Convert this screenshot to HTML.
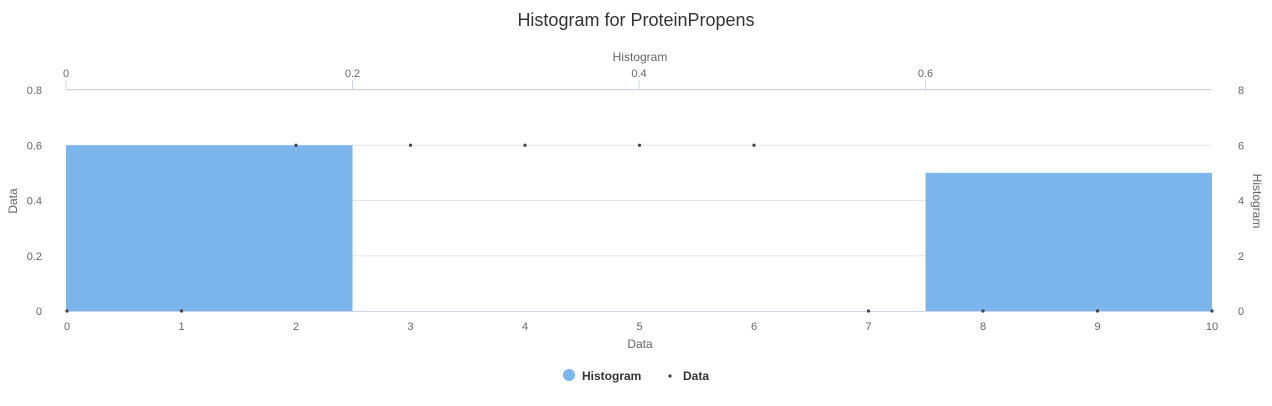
<!DOCTYPE html>
<html><head><meta charset="utf-8"><style>
body{margin:0;background:#fff;font-family:"Liberation Sans",sans-serif}
svg text{font-family:"Liberation Sans",sans-serif}
</style></head><body>
<svg id="c" width="1272" height="401">
<text x="636" y="26" text-anchor="middle" font-size="18" fill="#333">Histogram for ProteinPropens</text>
<g id="g"></g>
</svg>
<script>
const dataX=[0,1,2,3,4,5,6,7,8,9,10];
const dataY=[0,0,0.6,0.6,0.6,0.6,0.6,0,0,0,0];
const binStart=[0,0.2,0.4,0.6];
const binEnd=[0.2,0.4,0.6,0.8];
const binCount=[6,0,0,5];
const leftTicks=[0,0.2,0.4,0.6,0.8];
const rightTicks=[0,2,4,6,8];
const bottomTicks=[0,1,2,3,4,5,6,7,8,9,10];
const topTicks=[0,0.2,0.4,0.6];
const L=67,R=1212,T=90,B=311;
const xB=v=>L+(v/10)*(R-L);
const xT=v=>66+(v/0.8)*(R-66);
const yL=v=>B-(v/0.8)*(B-T);
const yR=v=>B-(v/8)*(B-T);
const g=document.getElementById('g');
const NS='http://www.w3.org/2000/svg';
function mk(t,a,txt){const e=document.createElementNS(NS,t);for(const k in a)e.setAttribute(k,a[k]);if(txt!==undefined)e.textContent=txt;g.appendChild(e);return e;}
leftTicks.forEach(v=>{
 if(v>0){const l=mk('line',{x1:L,x2:R,y1:yL(v),y2:yL(v),stroke:'#e6e6e6'});
 
 }
 const t=mk('text',{x:42,y:yL(v)+4,'text-anchor':'end','font-size':11,fill:'#666'},String(v));
 
 
});
rightTicks.forEach(v=>{
 const t=mk('text',{x:1238,y:yR(v)+4,'text-anchor':'start','font-size':11,fill:'#666'},String(v));
 
 
});
bottomTicks.forEach(v=>{
 const t=mk('text',{x:xB(v),y:330,'text-anchor':'middle','font-size':11,fill:'#666'},String(v));
 
 
});
topTicks.forEach(v=>{
 const t=mk('text',{x:xT(v),y:77,'text-anchor':'middle','font-size':11,fill:'#666'},String(v));
 
 
 const k=mk('line',{x1:xT(v),x2:xT(v),y1:80,y2:90,stroke:'#ccd6eb'});
 
 
});
let ax=mk('line',{x1:66,x2:R,y1:89.5,y2:89.5,stroke:'#ccd6eb'});


ax=mk('line',{x1:L,x2:R,y1:311.5,y2:311.5,stroke:'#ccd6eb'});


binCount.forEach((c,i)=>{
 if(c<=0)return;
 const x1=xT(binStart[i]),x2=xT(binEnd[i]);
 const r=mk('rect',{x:x1,y:yR(c),width:x2-x1,height:B-yR(c),fill:'#7cb5ec'});
 
 
});
dataX.forEach((x,i)=>{
 const p=mk('circle',{cx:xB(x),cy:yL(dataY[i]),r:1.6,fill:'#434348'});
 
 
});
let t=mk('text',{x:640,y:61,'text-anchor':'middle','font-size':12,fill:'#666'},'Histogram');


t=mk('text',{x:640,y:348,'text-anchor':'middle','font-size':12,fill:'#666'},'Data');


t=mk('text',{x:0,y:0,'text-anchor':'middle','font-size':12,fill:'#666',transform:'translate(17,201) rotate(-90)'},'Data');


t=mk('text',{x:0,y:0,'text-anchor':'middle','font-size':12,fill:'#666',transform:'translate(1253,201) rotate(90)'},'Histogram');


let c=mk('circle',{cx:569,cy:375,r:6,fill:'#7cb5ec'});


t=mk('text',{x:582,y:380,'font-size':12,'font-weight':'bold',fill:'#333'},'Histogram');


c=mk('circle',{cx:670,cy:376,r:1.6,fill:'#434348'});


t=mk('text',{x:683,y:380,'font-size':12,'font-weight':'bold',fill:'#333'},'Data');


</script>
</body></html>
